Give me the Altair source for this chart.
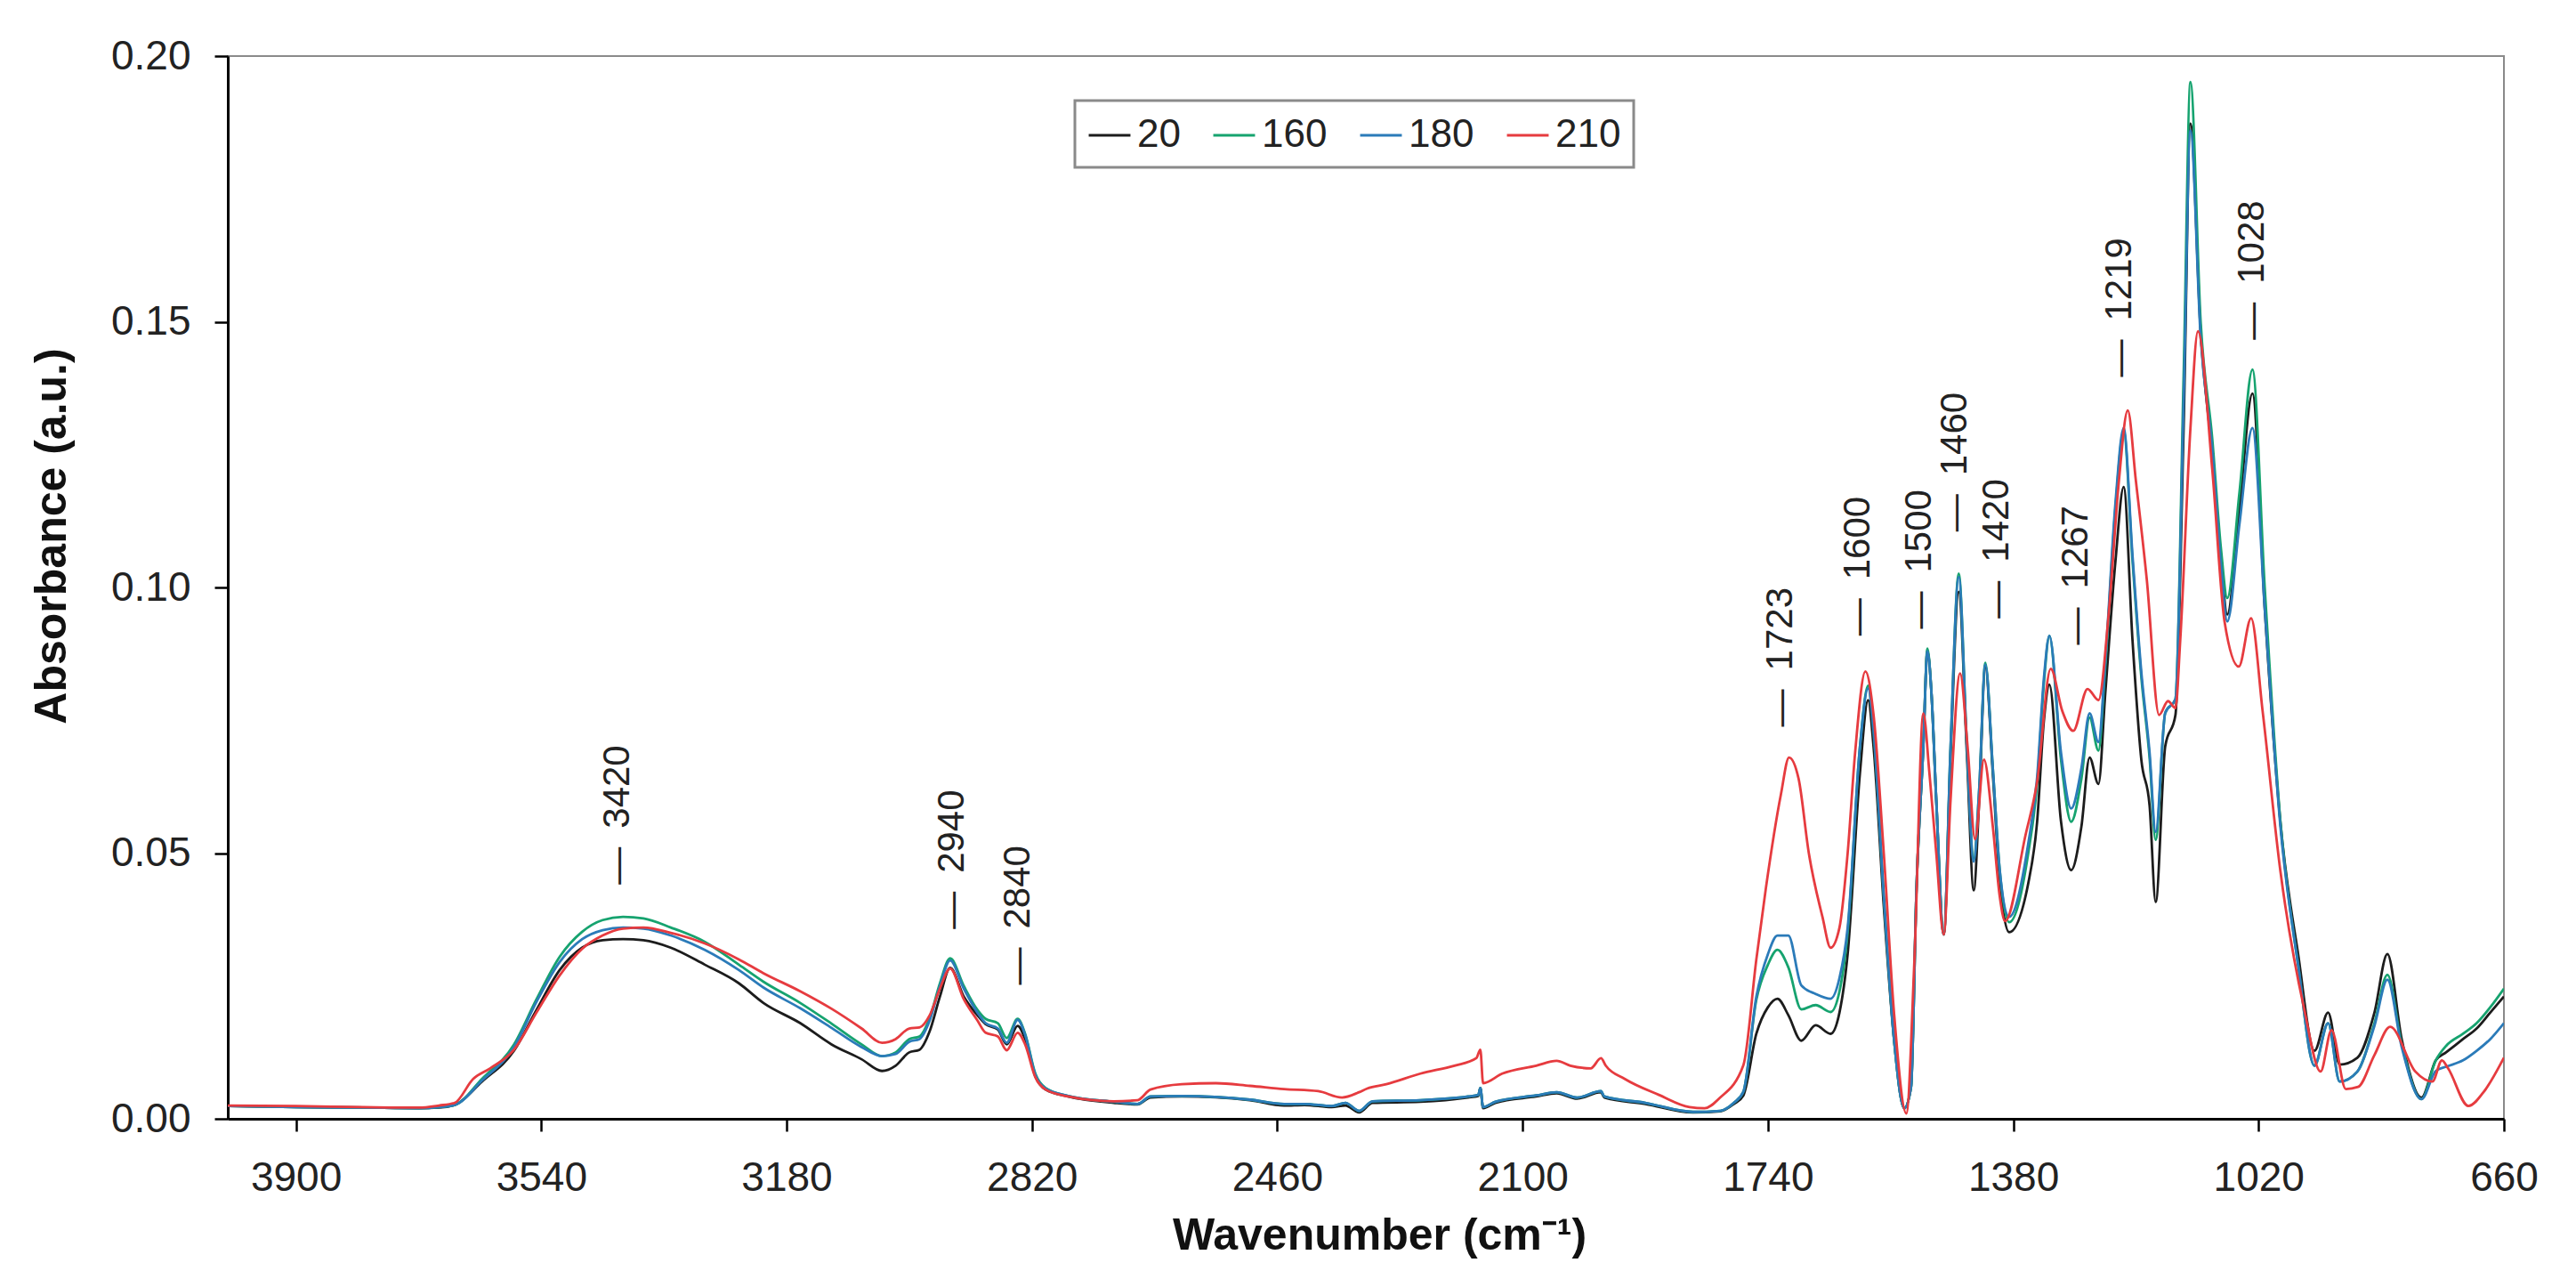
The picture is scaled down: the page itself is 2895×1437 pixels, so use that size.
import altair as alt
import pandas as pd

# ---------------- data ----------------
WN_A = [4000,3900,3800,3720,3690,3667,3627,3580,3547,3513,
        3480,3450,3420,3390,3350,3300,3250,3214,3160,3114,
        3070,3040,3020,3000,2985,2970,2955,2940,2920,2900,
        2888,2870,2857,2841,2830,2815,2800,2767,2700,2665,
        2646,2600,2500,2450,2420,2380,2360,2340,2320,2250,
        2180,2165,2162,2158,2140,2080,2050,2020,1985,1980,
        1920,1850,1810,1790,1776,1757,1740,1726,1710,1691,
        1670,1648,1635,1623,1605,1593,1585,1570,1555,1540,
        1530,1522,1512,1506,1500,1493,1482,1472,1460,1448,
        1438,1430,1421,1410,1400,1386,1358,1345,1335,1327,
        1310,1295,1280,1268,1255,1245,1230,1218,1205,1192,
        1180,1171,1157,1142,1130,1120,1105,1088,1075,1066,
        1048,1029,1011,988,962,938,918,901,875,850,
        831,810,781,760,745,720,700,680,660]

ABS_20 = [0.0024,0.0022,0.0021,0.0020,0.0021,0.0026,0.0070,0.0128,0.0205,0.0280,
          0.0322,0.0336,0.0338,0.0336,0.0322,0.0290,0.0255,0.0218,0.0180,0.0140,
          0.0112,0.0090,0.0100,0.0125,0.0130,0.0165,0.0230,0.0284,0.0230,0.0195,
          0.0178,0.0168,0.0140,0.0175,0.0150,0.0080,0.0055,0.0042,0.0030,0.0027,
          0.0040,0.0042,0.0035,0.0025,0.0026,0.0022,0.0025,0.0012,0.0030,0.0032,
          0.0040,0.0043,0.0058,0.0020,0.0030,0.0042,0.0048,0.0038,0.0050,0.0040,
          0.0028,0.0012,0.0014,0.0028,0.0044,0.0160,0.0210,0.0226,0.0195,0.0147,
          0.0176,0.0160,0.0200,0.0310,0.0650,0.0788,0.0700,0.0400,0.0150,0.0020,
          0.0060,0.0434,0.0700,0.0880,0.0800,0.0600,0.0347,0.0685,0.0992,0.0685,
          0.0430,0.0600,0.0850,0.0650,0.0450,0.0351,0.0443,0.0559,0.0750,0.0817,
          0.0560,0.0468,0.0550,0.0680,0.0630,0.0800,0.1050,0.1189,0.0900,0.0675,
          0.0590,0.0408,0.0701,0.0760,0.1300,0.1873,0.1480,0.1250,0.1050,0.0949,
          0.1150,0.1365,0.0961,0.0558,0.0310,0.0128,0.0200,0.0102,0.0115,0.0200,
          0.0310,0.0150,0.0040,0.0110,0.0125,0.0150,0.0170,0.0200,0.0230]

ABS_160 = [0.0024,0.0022,0.0021,0.0020,0.0022,0.0026,0.0075,0.0140,0.0225,0.0305,
           0.0352,0.0374,0.0380,0.0377,0.0360,0.0333,0.0290,0.0258,0.0218,0.0179,
           0.0140,0.0118,0.0125,0.0150,0.0155,0.0190,0.0255,0.0302,0.0250,0.0205,
           0.0188,0.0180,0.0152,0.0188,0.0160,0.0085,0.0058,0.0043,0.0032,0.0028,
           0.0042,0.0043,0.0036,0.0028,0.0028,0.0024,0.0030,0.0015,0.0033,0.0035,
           0.0042,0.0045,0.0058,0.0022,0.0032,0.0044,0.0050,0.0040,0.0052,0.0042,
           0.0030,0.0013,0.0015,0.0030,0.0051,0.0224,0.0290,0.0318,0.0285,0.0206,
           0.0214,0.0201,0.0240,0.0350,0.0700,0.0815,0.0730,0.0420,0.0150,0.0020,
           0.0060,0.0434,0.0700,0.0885,0.0800,0.0600,0.0347,0.0700,0.1026,0.0700,
           0.0490,0.0620,0.0858,0.0660,0.0470,0.0370,0.0500,0.0630,0.0820,0.0909,
           0.0676,0.0559,0.0640,0.0755,0.0693,0.0850,0.1150,0.1294,0.1050,0.0830,
           0.0680,0.0525,0.0764,0.0790,0.1400,0.1951,0.1500,0.1280,0.1070,0.0980,
           0.1180,0.1410,0.1000,0.0560,0.0290,0.0100,0.0180,0.0070,0.0089,0.0180,
           0.0271,0.0140,0.0037,0.0110,0.0137,0.0160,0.0180,0.0210,0.0245]

ABS_180 = [0.0024,0.0022,0.0021,0.0020,0.0022,0.0026,0.0072,0.0135,0.0220,0.0295,
           0.0338,0.0355,0.0360,0.0358,0.0345,0.0318,0.0280,0.0247,0.0208,0.0171,
           0.0135,0.0118,0.0122,0.0145,0.0150,0.0185,0.0250,0.0298,0.0245,0.0200,
           0.0180,0.0170,0.0143,0.0186,0.0158,0.0083,0.0057,0.0043,0.0032,0.0028,
           0.0042,0.0043,0.0036,0.0028,0.0028,0.0024,0.0030,0.0015,0.0033,0.0035,
           0.0042,0.0045,0.0058,0.0022,0.0032,0.0044,0.0050,0.0040,0.0052,0.0042,
           0.0030,0.0013,0.0015,0.0030,0.0051,0.0230,0.0310,0.0345,0.0345,0.0251,
           0.0235,0.0226,0.0265,0.0360,0.0700,0.0810,0.0730,0.0420,0.0150,0.0020,
           0.0060,0.0434,0.0700,0.0880,0.0800,0.0600,0.0347,0.0700,0.1020,0.0700,
           0.0484,0.0620,0.0855,0.0660,0.0470,0.0380,0.0518,0.0643,0.0830,0.0909,
           0.0690,0.0584,0.0660,0.0763,0.0709,0.0860,0.1160,0.1300,0.1060,0.0840,
           0.0690,0.0540,0.0764,0.0790,0.1350,0.1860,0.1470,0.1260,0.1040,0.0936,
           0.1120,0.1300,0.0960,0.0550,0.0290,0.0100,0.0180,0.0070,0.0089,0.0175,
           0.0262,0.0135,0.0037,0.0090,0.0098,0.0110,0.0128,0.0150,0.0180]

WN_210 = [4000,3900,3800,3720,3690,3667,3640,3615,3580,3547,
          3513,3480,3450,3420,3390,3350,3300,3250,3214,3160,
          3114,3070,3040,3020,3000,2985,2970,2955,2940,2920,
          2900,2888,2870,2857,2841,2830,2815,2800,2767,2700,
          2665,2646,2600,2550,2500,2450,2400,2365,2340,2328,
          2300,2250,2200,2168,2162,2158,2130,2080,2050,2030,
          2000,1985,1978,1950,1900,1855,1833,1811,1776,1757,
          1743,1721,1709,1695,1680,1660,1648,1635,1623,1612,
          1597,1585,1570,1555,1537,1525,1512,1503,1493,1482,
          1472,1458,1447,1436,1423,1410,1400,1392,1362,1345,
          1325,1308,1292,1271,1255,1240,1225,1212,1200,1184,
          1166,1153,1142,1135,1120,1109,1088,1070,1049,1031,
          1014,988,953,929,913,892,874,850,827,790,
          765,751,742,712,690,660]

ABS_210 = [0.0025,0.0024,0.0022,0.0021,0.0025,0.0030,0.0075,0.0095,0.0130,0.0200,
           0.0270,0.0320,0.0345,0.0358,0.0360,0.0350,0.0330,0.0300,0.0274,0.0240,
           0.0207,0.0170,0.0143,0.0150,0.0170,0.0172,0.0195,0.0245,0.0283,0.0225,
           0.0185,0.0162,0.0155,0.0129,0.0162,0.0140,0.0078,0.0055,0.0042,0.0033,
           0.0035,0.0055,0.0065,0.0067,0.0062,0.0056,0.0052,0.0040,0.0050,0.0057,
           0.0065,0.0085,0.0100,0.0114,0.0130,0.0067,0.0085,0.0100,0.0109,0.0100,
           0.0095,0.0114,0.0100,0.0075,0.0045,0.0022,0.0020,0.0039,0.0101,0.0300,
           0.0434,0.0610,0.0680,0.0640,0.0500,0.0380,0.0322,0.0360,0.0500,0.0690,
           0.0842,0.0760,0.0500,0.0200,0.0010,0.0300,0.0763,0.0650,0.0500,0.0347,
           0.0600,0.0838,0.0700,0.0526,0.0676,0.0550,0.0420,0.0372,0.0534,0.0634,
           0.0847,0.0767,0.0730,0.0809,0.0788,0.0950,0.1200,0.1333,0.1200,0.1014,
           0.0760,0.0786,0.0773,0.0900,0.1300,0.1482,0.1222,0.0936,0.0851,0.0942,
           0.0766,0.0466,0.0206,0.0089,0.0167,0.0056,0.0060,0.0120,0.0173,0.0089,
           0.0070,0.0110,0.0095,0.0024,0.0050,0.0115]

SERIES = ["20", "160", "180", "210"]
COLORS = ["#1c1c1c", "#16a36f", "#2b7bb9", "#e63b3f"]

X_TICKS = [3900, 3540, 3180, 2820, 2460, 2100, 1740, 1380, 1020, 660]
Y_TICKS = [0.0, 0.05, 0.10, 0.15, 0.20]

PEAK_LABELS = ["3420", "2940", "2840", "1723", "1600", "1500", "1460", "1420", "1267", "1219", "1028"]
PEAK_X = [3428, 2937, 2840, 1721, 1608, 1518, 1465, 1404, 1288, 1224, 1029]
PEAK_Y = [0.0441, 0.0357, 0.0252, 0.0738, 0.0909, 0.0922, 0.1105, 0.0942, 0.0892, 0.1396, 0.1466]

# ---------------- tables ----------------
rows = []
for name, wn, ab in [("20", WN_A, ABS_20), ("160", WN_A, ABS_160),
                     ("180", WN_A, ABS_180), ("210", WN_210, ABS_210)]:
    assert len(wn) == len(ab), (name, len(wn), len(ab))
    for i, (w, a) in enumerate(zip(wn, ab)):
        rows.append({"series": name, "wn": w, "absorbance": a, "idx": i})
df = pd.DataFrame(rows)

ann = pd.DataFrame({
    "wn": PEAK_X,
    "absorbance": PEAK_Y,
    "label": ["\u2014\u2002" + s for s in PEAK_LABELS],
})

FONT = "Liberation Sans"

x_enc = alt.X(
    "wn:Q",
    scale=alt.Scale(domain=[660, 4000], reverse=True, nice=False, zero=False),
    axis=alt.Axis(
        values=X_TICKS, format="d", title="Wavenumber (cm\u207b\u00b9)", grid=False,
        labelFont=FONT, labelFontSize=46, labelColor="#222222", labelPadding=30,
        labelFlush=False, labelOverlap=False,
        domainColor="#000000", domainWidth=3,
        tickColor="#000000", tickWidth=2.5, tickSize=14,
        titleFont=FONT, titleFontSize=50, titleFontWeight="bold", titleColor="#111111",
        titleX=1294, titleY=146, titleAlign="center", titleBaseline="alphabetic",
    ),
)
y_enc = alt.Y(
    "absorbance:Q",
    scale=alt.Scale(domain=[0, 0.2], nice=False, zero=True),
    axis=alt.Axis(
        values=Y_TICKS, format=".2f", title="Absorbance (a.u.)", grid=False,
        labelFont=FONT, labelFontSize=46, labelColor="#222222", labelPadding=27,
        labelOverlap=False,
        domainColor="#000000", domainWidth=3,
        tickColor="#000000", tickWidth=2.5, tickSize=15,
        titleFont=FONT, titleFontSize=50, titleFontWeight="bold", titleColor="#111111",
        titleAngle=270, titleX=-198, titleY=539, titleAlign="center", titleBaseline="middle",
    ),
)

lines = alt.Chart(df).mark_line(strokeWidth=2.8, interpolate="monotone", clip=True).encode(
    x=x_enc,
    y=y_enc,
    color=alt.Color(
        "series:N",
        scale=alt.Scale(domain=SERIES, range=COLORS),
        legend=alt.Legend(
            orient="none", legendX=952, legendY=50, direction="horizontal", title=None,
            symbolType="stroke", symbolSize=2200, symbolStrokeWidth=3,
            labelFont=FONT, labelFontSize=44, labelColor="#222222", labelOffset=6,
            columnPadding=30, padding=14, strokeColor="#8a8a8a", fillColor="#ffffff",
        ),
    ),
    order=alt.Order("idx:Q"),
    detail="series:N",
)

labels = alt.Chart(ann).mark_text(
    angle=270, align="left", baseline="middle", fontSize=42, font=FONT, color="#222222"
).encode(
    x=x_enc,
    y=y_enc,
    text="label:N",
)

chart = alt.layer(lines, labels).properties(
    width=2558,
    height=1194,
    autosize=alt.AutoSizeParams(type="none"),
    padding={"left": 248, "top": 55, "right": 73, "bottom": 172},
    background="#ffffff",
).configure_view(
    stroke="#8a8a8a", strokeWidth=2
).configure_legend(
    strokeWidth=3
)

chart.save("out.html", embed_options={"renderer": "svg", "actions": False})
